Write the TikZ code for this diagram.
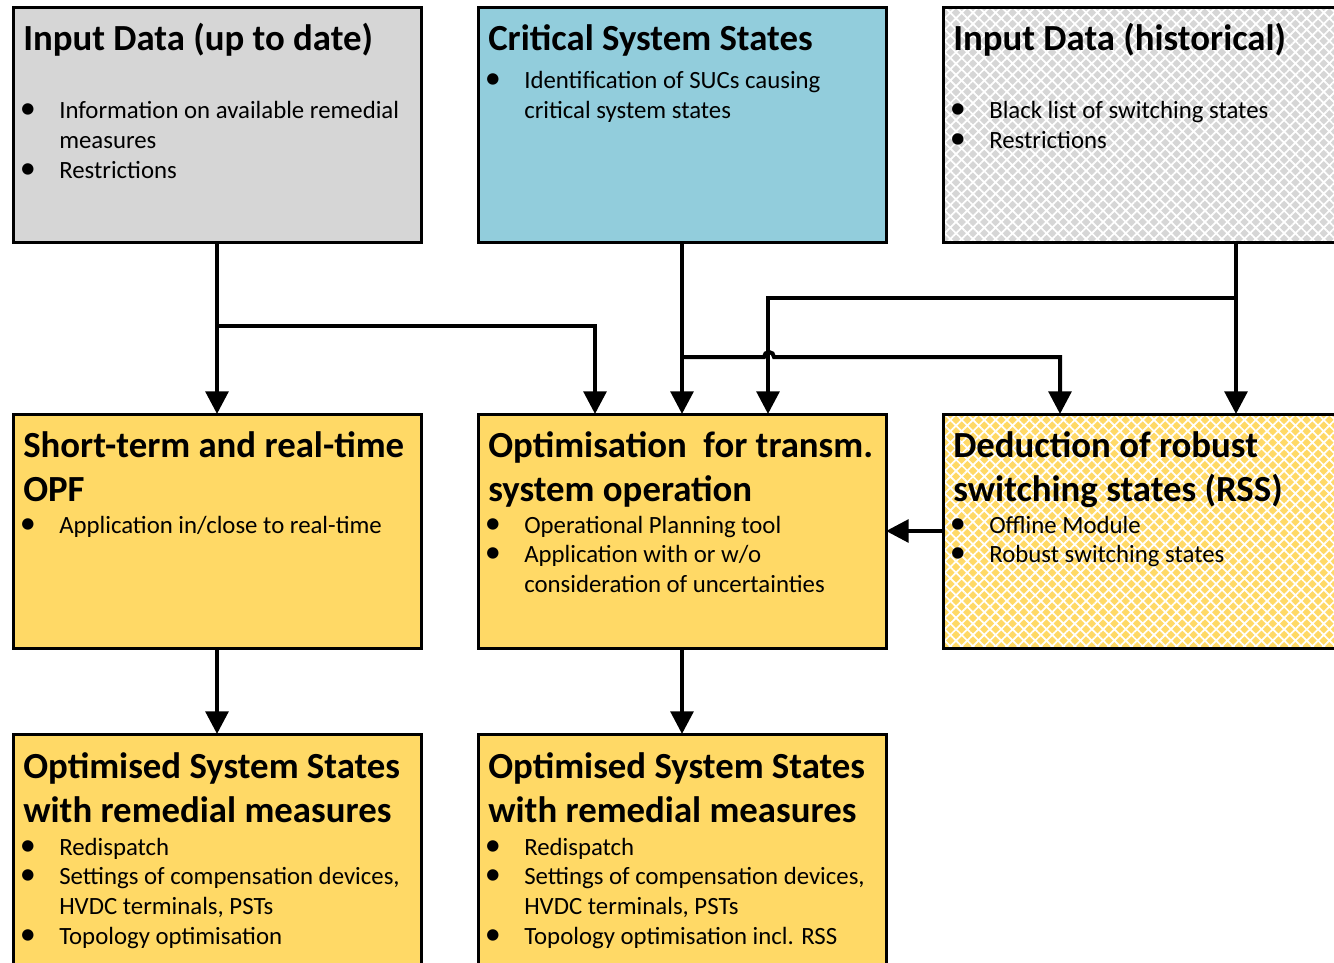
\documentclass[tikz,border=0pt]{standalone}
\usepackage{fontspec}
\usepackage{graphicx}
\setmainfont{Carlito}
\usetikzlibrary{arrows.meta, positioning, calc, patterns.meta}
\definecolor{greyfill}{HTML}{D6D6D6}
\definecolor{bluefill}{HTML}{92CDDC}
\definecolor{goldfill}{HTML}{FFD966}
\newcommand{\itm}{\makebox[27pt][l]{\hspace*{-2.5pt}\scalebox{1.3}{\textbullet}}}
\newcommand{\cnt}{\hspace*{27pt}}
\newcommand{\lines}[1]{\begin{tabular}[t]{@{}l@{}}#1\end{tabular}}
\tikzset{%
	box/.style={draw, rectangle, line width=2.25pt, outer sep=0pt, anchor=north west,%
		minimum width=306pt, minimum height=175.5pt},
	wide/.style={minimum width=439.5pt},
	lattice/.style={preaction={fill=#1}, pattern={Hatch[angle=45, distance=6pt, line width=1.3pt]},%
		pattern color=white},
	flow/.style={-{Triangle[width=17pt, length=17pt]}, line width=3pt},
	title/.style={anchor=base west, inner sep=0pt, font=\bfseries\fontsize{27.6}{33}\selectfont},
	items/.style={anchor=base west, inner sep=0pt, font=\fontsize{18.6}{22.3}\selectfont}
}
\begin{document}
\begin{tikzpicture}[x=0.75pt, y=-0.75pt]
	\useasboundingbox (0,0) rectangle (1334,963);
	\node[box, fill=greyfill] (inup) at (13,8) {};
	\node[box, fill=bluefill, right=42.75pt of inup] (crit) {};
	\node[box, wide, lattice=greyfill, right=42.75pt of crit] (inhist) {};
	\node[box, fill=goldfill, below=129pt of inup] (opf) {};
	\node[box, fill=goldfill, below=129pt of crit] (optim) {};
	\node[box, wide, lattice=goldfill, below=129pt of inhist] (rss) {};
	\node[box, fill=goldfill, below=64.5pt of opf] (resA) {};
	\node[box, fill=goldfill, below=64.5pt of optim] (resB) {};

	\node[title] at ($(inup.north west)+(10,43)$) {Input Data (up to date)};
	\node[items] at ($(inup.north west)+(10,111)$) {\lines{\itm Information on available remedial\\ \cnt measures\\ \itm Restrictions}};
	\node[title] at ($(crit.north west)+(10,43)$) {Critical System States};
	\node[items] at ($(crit.north west)+(10,81)$) {\lines{\itm Identification of SUCs causing\\ \cnt critical system states}};
	\node[title] at ($(inhist.north west)+(10,43)$) {Input Data (historical)};
	\node[items] at ($(inhist.north west)+(10,111)$) {\lines{\itm Black list of switching states\\ \itm Restrictions}};
	\node[title] at ($(opf.north west)+(10,43)$) {\lines{Short-term and real-time\\OPF}};
	\node[items] at ($(opf.north west)+(10,119)$) {\lines{\itm Application in/close to real-time}};
	\node[title] at ($(optim.north west)+(10,43)$) {\lines{Optimisation\ \ for transm.\\system operation}};
	\node[items] at ($(optim.north west)+(10,119)$) {\lines{\itm Operational Planning tool\\ \itm Application with or w/o\\ \cnt consideration of uncertainties}};
	\node[title] at ($(rss.north west)+(10,43)$) {\lines{Deduction of robust\\switching states (RSS)}};
	\node[items] at ($(rss.north west)+(10,119)$) {\lines{\itm Offline Module\\ \itm Robust switching states}};
	\node[title] at ($(resA.north west)+(10,44)$) {\lines{Optimised System States\\with remedial measures}};
	\node[items] at ($(resA.north west)+(10,121)$) {\lines{\itm Redispatch\\ \itm Settings of compensation devices,\\ \cnt HVDC terminals, PSTs\\ \itm Topology optimisation}};
	\node[title] at ($(resB.north west)+(10,44)$) {\lines{Optimised System States\\with remedial measures}};
	\node[items] at ($(resB.north west)+(10,121)$) {\lines{\itm Redispatch\\ \itm Settings of compensation devices,\\ \cnt HVDC terminals, PSTs\\ \itm Topology optimisation incl. RSS}};

	\coordinate (e1) at ($(optim.north west)+(117,0)$);
	\coordinate (e2) at ($(optim.north west)+(290,0)$);
	\coordinate (f1) at ($(rss.north west)+(117,0)$);
	\draw[flow] (inup) -- (opf);
	\draw[flow] (crit) -- (optim);
	\draw[flow] (inhist) -- (rss);
	\draw[flow] ($(inup.south)+(0,84)$) -| (e1);
	\draw[flow] ($(inhist.south)+(0,56)$) -| (e2);
	\draw[flow] ($(crit.south)+(0,115)$) -- ++(82,0) arc (180:360:5) -| (f1);
	\draw[flow] (rss) -- (optim);
	\draw[flow] (opf) -- (resA);
	\draw[flow] (optim) -- (resB);
\end{tikzpicture}
\end{document}
